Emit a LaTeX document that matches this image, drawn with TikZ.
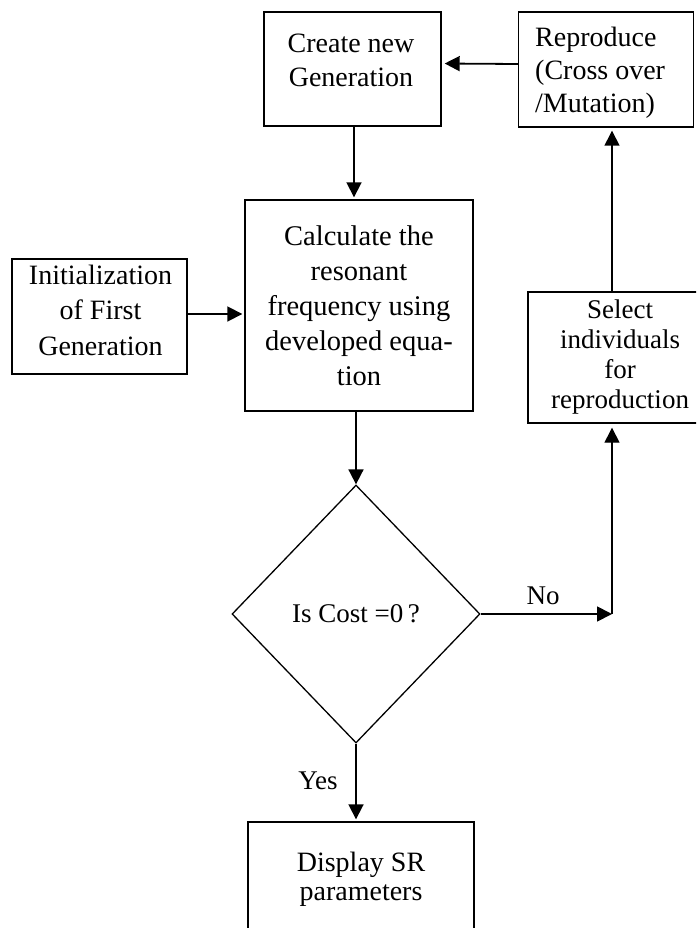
\documentclass[tikz,border=0pt]{standalone}
\usepackage{fontspec}
\setmainfont{Liberation Serif}
\usetikzlibrary{arrows.meta,shapes.geometric}

\begin{document}
\begin{tikzpicture}[x=1pt,y=-1pt,
  box/.style={draw,line width=1.4pt,rectangle,inner sep=0pt,align=center},
  txt/.style={align=center,inner sep=0pt,font=\fontsize{28}{34}\selectfont},
  flow/.style={line width=1.8pt,-{Triangle[length=15pt,width=15pt]}},
  thinflow/.style={line width=1.4pt,-{Triangle[length=15pt,width=15pt]}},
]
\clip (0,0) rectangle (696,928);

% process boxes
\node[box,minimum width=177pt,minimum height=114pt] (create) at (352.5,69) {};
\node[txt] (createtxt) at (351,60.5) {Create new\\Generation};

\node[box,minimum width=175pt,minimum height=115pt] (repro) at (606,69.5) {};
\node[txt,align=left,anchor=west,font=\fontsize{28}{33}\selectfont] (reprotxt) at (535,73)
  {Reproduce\\(Cross over\\/Mutation)};

\node[box,minimum width=228pt,minimum height=211pt,font=\fontsize{28.5}{35}\selectfont]
  (calc) at (359,305.5)
  {Calculate the\\resonant\\frequency using\\developed equa-\\tion};

\node[box,minimum width=175pt,minimum height=115pt] (init) at (99.5,316.5) {};
\node[txt,font=\fontsize{28}{35.5}\selectfont] (inittxt) at (100.5,310)
  {Initialization\\of First\\Generation};

\node[box,minimum width=184pt,minimum height=131pt,font=\fontsize{27}{30}\selectfont]
  (select) at (620,357.5)
  {Select\\individuals\\for\\reproduction};

\node[box,minimum width=226pt,minimum height=114pt,font=\fontsize{28}{29}\selectfont]
  (display) at (361,879) {Display SR\\parameters};

% decision
\node[draw,diamond,line width=1.3pt,inner sep=0pt,minimum width=248pt,minimum height=258pt,
  font=\fontsize{27}{32}\selectfont] (cost) at (356,614) {Is Cost =0\,?};

\coordinate (turn) at (612,614);

% connectors
\draw[flow,shorten >=3pt] ([yshift=5.5pt]repro.west) -- ([yshift=5.5pt]create.east);
\draw[flow,shorten >=2pt] ([xshift=1.5pt]create.south) -- ([xshift=1.5pt]create.south |- calc.north);
\draw[flow,shorten >=2pt] ([yshift=2.5pt]init.east) -- ([yshift=2.5pt]init.east -| calc.west);
\draw[flow] (calc.south -| cost.north) -- (cost.north);
\draw[flow] (cost.east) -- (turn);
\draw[thinflow,shorten >=4pt] (turn) -- (turn |- select.south);
\draw[thinflow,shorten >=3pt] (turn |- select.north) -- (turn |- repro.south);
\draw[flow,shorten >=2pt] (cost.south) -- (cost.south |- display.north);

% branch labels
\node[txt,font=\fontsize{27}{32}\selectfont] (nolbl) at (543,596) {No};
\node[txt,font=\fontsize{27}{32}\selectfont] (yeslbl) at (318,781) {Yes};
\end{tikzpicture}
\end{document}
